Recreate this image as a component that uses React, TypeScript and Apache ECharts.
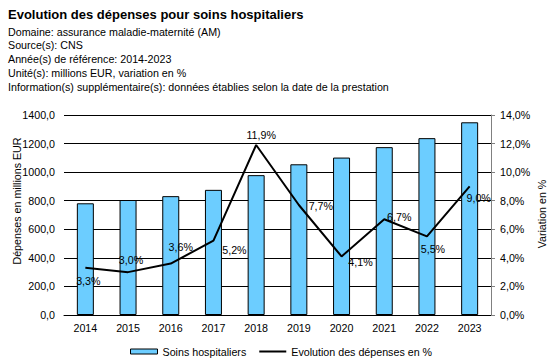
import React, { useEffect, useRef } from "react";
import * as echarts from "echarts";

const years = ["2014", "2015", "2016", "2017", "2018", "2019", "2020", "2021", "2022", "2023"];
const depenses = [782, 805, 832, 876, 979, 1055, 1102, 1175, 1238, 1349];
const variation = [3.3, 3.0, 3.6, 5.2, 11.9, 7.7, 4.1, 6.7, 5.5, 9.0];
const labelOffsets: number[][] = [
  [3, 13], [3, -12], [10, -17], [21, 9], [5, -10], [22, 1], [19, 6], [15, -2], [6, 13], [9, 12],
];
const titleText = "Evolution des dépenses pour soins hospitaliers";
const subtitleLines = [
  "Domaine: assurance maladie-maternité (AM)",
  "Source(s): CNS",
  "Année(s) de référence: 2014-2023",
  "Unité(s): millions EUR, variation en %",
  "Information(s) supplémentaire(s): données établies selon la date de la prestation",
];
const barName = "Soins hospitaliers";
const lineName = "Evolution des dépenses en %";
const leftAxisName = "Dépenses en millions EUR";
const rightAxisName = "Variation en %";

const FONT = "'Liberation Sans', Arial, sans-serif";
const FS = 10.7;

export default function App() {
  const ref = useRef<HTMLDivElement>(null);
  useEffect(() => {
    const chart = echarts.init(ref.current!, null, { renderer: "svg" });
    const subY = [31.5, 44.5, 58.5, 72.5, 87];
    chart.setOption({
      animation: false,
      backgroundColor: "#ffffff",
      textStyle: { fontFamily: FONT },
      grid: { left: 64, right: 63, top: 115, bottom: 48 },
      graphic: [
        {
          type: "text", x: 8, y: 14,
          style: { text: titleText, font: `bold 13px ${FONT}`, fill: "#000", textVerticalAlign: "middle" },
        },
        ...subtitleLines.map((t, i) => ({
          type: "text", x: 8, y: subY[i],
          style: { text: t, font: `${FS}px ${FONT}`, fill: "#000", textVerticalAlign: "middle" },
        })),
        {
          type: "text", x: 17, y: 201, rotation: Math.PI / 2,
          style: { text: leftAxisName, font: `${FS}px ${FONT}`, fill: "#000", textAlign: "center", textVerticalAlign: "middle" },
        },
        {
          type: "text", x: 542, y: 214, rotation: Math.PI / 2,
          style: { text: rightAxisName, font: `${FS}px ${FONT}`, fill: "#000", textAlign: "center", textVerticalAlign: "middle" },
        },
      ],
      legend: {
        left: 125, top: 341, itemGap: 13, itemWidth: 27, itemHeight: 5,
        textStyle: { fontFamily: FONT, fontSize: FS, color: "#000" },
        data: [
          { name: barName, icon: "rect", itemStyle: { borderColor: "#000", borderWidth: 1 } },
          { name: lineName, icon: "path://M0,0h27v0.1h-27z M0,1.5h27v2h-27z M0,4.9h27v0.1h-27z", itemStyle: { color: "#000", borderWidth: 0 } },
        ],
      },
      xAxis: {
        type: "category", data: years,
        axisLine: { lineStyle: { color: "#000" } },
        axisTick: { show: false },
        axisLabel: { color: "#000", fontSize: FS, fontFamily: FONT, margin: 7 },
      },
      yAxis: [
        {
          type: "value", min: 0, max: 1400, interval: 200,
          axisLine: { show: false }, axisTick: { show: false },
          splitLine: { lineStyle: { color: "#000", width: 1 } },
          axisLabel: { color: "#000", fontSize: FS, fontFamily: FONT, margin: 9, formatter: (v: number) => v.toFixed(1).replace(".", ",") },
        },
        {
          type: "value", min: 0, max: 14, interval: 2, position: "right",
          axisLine: { show: true, lineStyle: { color: "#808080" } },
          axisTick: { show: true, length: 4, lineStyle: { color: "#808080" } },
          splitLine: { show: false },
          axisLabel: { color: "#000", fontSize: FS, fontFamily: FONT, margin: 9, formatter: (v: number) => v.toFixed(1).replace(".", ",") + "%" },
        },
      ],
      series: [
        {
          name: barName, type: "bar", data: depenses, barWidth: 17, yAxisIndex: 0,
          itemStyle: { color: "#6ccdff", borderColor: "#000", borderWidth: 1 },
        },
        {
          name: lineName, type: "line", yAxisIndex: 1, symbol: "circle", symbolSize: 0, showSymbol: true,
          lineStyle: { color: "#000", width: 2 }, itemStyle: { color: "#000" },
          data: variation.map((v, i) => ({
            value: v,
            label: { show: true, position: "inside", offset: labelOffsets[i] },
          })),
          label: {
            show: true, color: "#000", fontSize: FS, fontFamily: FONT,
            formatter: (p: any) => p.value.toFixed(1).replace(".", ",") + "%",
          },
        },
      ],
    });
    return () => chart.dispose();
  }, []);
  return <div ref={ref} style={{ width: 554, height: 363, position: "absolute", left: 0, top: 0 }} />;
}
